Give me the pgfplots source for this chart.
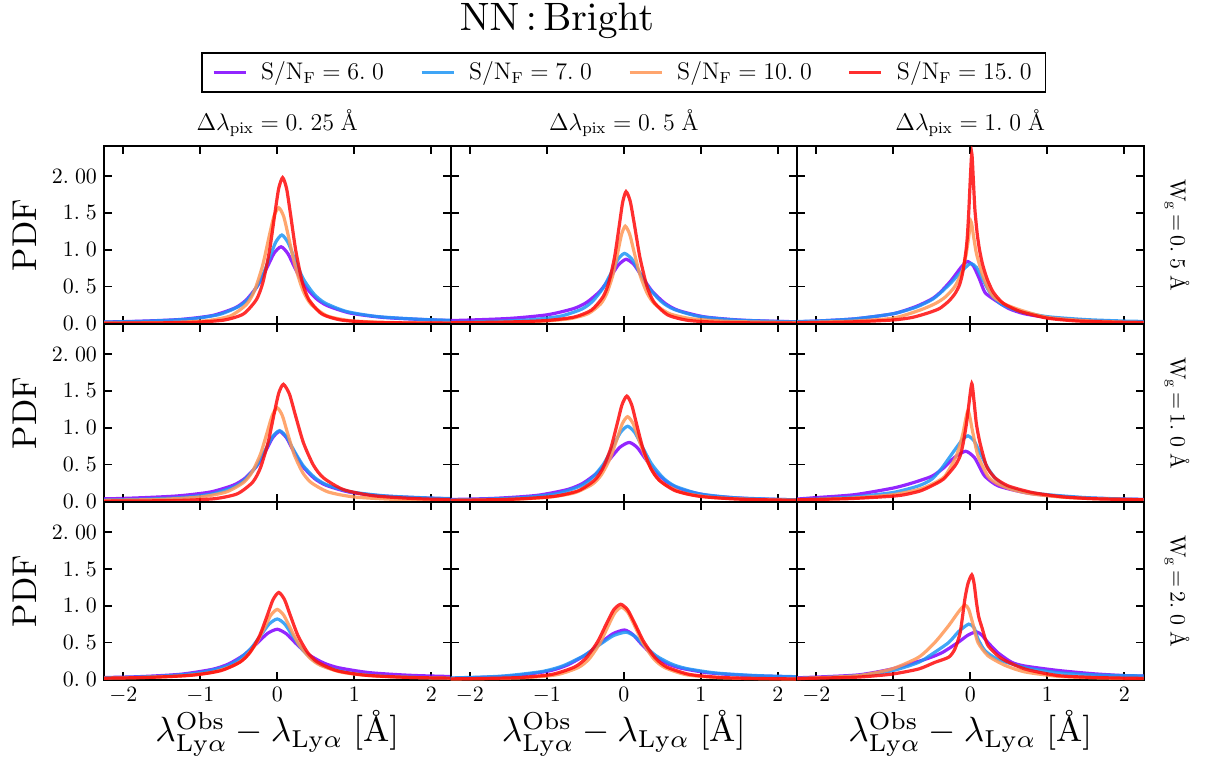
\documentclass[border=0pt]{standalone}
\usepackage{graphicx}
\usepackage{pgfplots}
\pgfplotsset{compat=1.18}
\definecolor{cP}{RGB}{128,0,255}
\definecolor{cB}{RGB}{30,150,245}
\definecolor{cO}{RGB}{255,150,85}
\definecolor{cR}{RGB}{255,10,10}
\newcommand{\xlab}{\scalebox{1.75}{$\lambda^{\mathrm{Obs}}_{\mathrm{Ly}\alpha}-\lambda_{\mathrm{Ly}\alpha}\;[\mbox{\AA}]$}}
\pgfplotsset{
 panel/.style={
  scale only axis, width=173.25pt, height=89pt, anchor=north west,
  xmin=-2.25, xmax=2.25, ymin=-0.01, ymax=2.41,
  xtick={-2,-1,0,1,2}, ytick={0,0.5,1,1.5,2},
  tick align=inside, major tick length=4pt,
  tick style={black, line width=0.8pt},
  axis line style={line width=1pt},
  xticklabels={}, yticklabels={},
  tick label style={font=\fontsize{10.5}{12}\selectfont},
  every axis plot/.append style={line width=1.6pt, opacity=0.85, smooth, tension=0.4, no markers},
 },
 leftcol/.style={yticklabels={$0.\;0$,$0.\;5$,$1.\;0$,$1.\;5$,$2.\;00$}, ylabel={\scalebox{1.72}{PDF}},
   ylabel style={at={(axis description cs:-0.23,0.5)}, anchor=center}},
 bottomrow/.style={xticklabels={$-2$,$-1$,$0$,$1$,$2$},
   xlabel={\xlab},
   xlabel style={at={(axis description cs:0.5,-0.30)}, anchor=center}},
}
\begin{document}
\begin{tikzpicture}
\useasboundingbox (0,0) rectangle (604pt,-380pt);
% ---------------- row 1 ----------------
\begin{axis}[panel, leftcol, at={(52pt,-73pt)},
  legend entries={$\mathrm{S/N_F}=6.\;0$,$\mathrm{S/N_F}=7.\;0$,$\mathrm{S/N_F}=10.\;0$,$\mathrm{S/N_F}=15.\;0$},
  legend style={at={(1.5,1.528)}, anchor=north, legend columns=4, draw=black, line width=0.8pt,
    font=\fontsize{12}{14}\selectfont, inner xsep=5pt, inner ysep=2.5pt,
    /tikz/every odd column/.append style={column sep=5pt},
    /tikz/every even column/.append style={column sep=16pt}},
  legend image code/.code={\draw[#1] (0pt,0pt) -- (16pt,0pt);}]
\addplot[cP] coordinates {(-5.35,0.0032)(-3.25,0.0085)(-2.05,0.0208)(-1.30,0.0489)(-0.85,0.104)(-0.55,0.208)(-0.40,0.320)(-0.25,0.52)(-0.13,0.764)(-0.04,0.954)(0.05,1.04)(0.14,0.944)(0.23,0.750)(0.35,0.52)(0.50,0.341)(0.65,0.239)(0.95,0.138)(1.40,0.0777)(2.15,0.0406)(3.35,0.0208)(5.45,0.010)};
\addplot[cB] coordinates {(-4.8,0.0037)(-2.91,0.0098)(-1.83,0.024)(-1.155,0.056)(-0.75,0.12)(-0.48,0.24)(-0.345,0.370)(-0.21,0.6)(-0.102,0.882)(-0.021,1.100)(0.06,1.2)(0.144,1.090)(0.228,0.865)(0.34,0.6)(0.48,0.394)(0.62,0.276)(0.90,0.160)(1.32,0.0896)(2.02,0.047)(3.14,0.024)(5.1,0.0115)};
\addplot[cO] coordinates {(-3.76,0.0006)(-2.29,0.0025)(-1.45,0.0097)(-0.925,0.0339)(-0.61,0.0997)(-0.40,0.256)(-0.295,0.444)(-0.19,0.785)(-0.106,1.178)(-0.043,1.454)(0.02,1.57)(0.083,1.454)(0.146,1.178)(0.23,0.785)(0.335,0.444)(0.44,0.256)(0.65,0.0997)(0.965,0.0339)(1.49,0.0097)(2.33,0.0025)(3.80,0.0006)};
\addplot[cR] coordinates {(-2.99,0.001)(-1.80,0.003)(-1.12,0.012)(-0.695,0.043)(-0.44,0.126)(-0.27,0.323)(-0.185,0.560)(-0.10,0.99)(-0.032,1.485)(0.019,1.833)(0.07,1.98)(0.121,1.833)(0.172,1.485)(0.24,0.99)(0.325,0.560)(0.41,0.323)(0.58,0.126)(0.835,0.043)(1.26,0.012)(1.94,0.003)(3.13,0.001)};
\end{axis}
\begin{axis}[panel, at={(225.25pt,-73pt)}]
\addplot[cP] coordinates {(-6.09,0.0084)(-3.71,0.0174)(-2.35,0.034)(-1.50,0.065)(-0.99,0.116)(-0.65,0.200)(-0.48,0.285)(-0.31,0.435)(-0.174,0.627)(-0.072,0.790)(0.03,0.87)(0.132,0.798)(0.234,0.639)(0.37,0.435)(0.54,0.268)(0.71,0.174)(1.05,0.087)(1.56,0.0409)(2.41,0.0174)(3.77,0.0071)(6.15,0.0027)};
\addplot[cB] coordinates {(-5.03,0.0029)(-3.07,0.0078)(-1.95,0.019)(-1.25,0.0447)(-0.83,0.095)(-0.55,0.19)(-0.41,0.293)(-0.27,0.475)(-0.158,0.698)(-0.074,0.871)(0.01,0.95)(0.106,0.871)(0.202,0.698)(0.33,0.475)(0.49,0.293)(0.65,0.19)(0.97,0.095)(1.45,0.0447)(2.25,0.019)(3.53,0.0078)(5.77,0.0029)};
\addplot[cO] coordinates {(-2.86,0.0041)(-1.74,0.0108)(-1.10,0.0264)(-0.70,0.062)(-0.46,0.132)(-0.30,0.264)(-0.22,0.407)(-0.14,0.66)(-0.076,0.970)(-0.028,1.210)(0.02,1.32)(0.077,1.210)(0.134,0.970)(0.21,0.66)(0.305,0.407)(0.40,0.264)(0.59,0.132)(0.875,0.062)(1.35,0.0264)(2.11,0.0108)(3.44,0.0041)};
\addplot[cR] coordinates {(-2.67,0.0055)(-1.62,0.0147)(-1.02,0.0358)(-0.645,0.0841)(-0.42,0.179)(-0.27,0.358)(-0.195,0.551)(-0.12,0.895)(-0.06,1.316)(-0.015,1.641)(0.03,1.79)(0.084,1.658)(0.138,1.343)(0.21,0.895)(0.30,0.507)(0.39,0.292)(0.57,0.114)(0.84,0.0387)(1.29,0.0111)(2.01,0.0029)(3.27,0.0007)};
\end{axis}
\begin{axis}[panel, at={(398.5pt,-73pt)}]
\addplot[cP] coordinates {(-2.25,0.02)(-2.0,0.03)(-1.5,0.06)(-1.0,0.13)(-0.7,0.23)(-0.5,0.33)(-0.39,0.42)(-0.25,0.58)(-0.12,0.76)(-0.04,0.84)(0.04,0.78)(0.12,0.6)(0.19,0.42)(0.3,0.33)(0.5,0.2)(0.7,0.13)(1.0,0.08)(1.5,0.04)(2.0,0.02)(2.25,0.018)};
\addplot[cB] coordinates {(-2.25,0.025)(-2.0,0.03)(-1.5,0.06)(-1.0,0.13)(-0.7,0.22)(-0.5,0.32)(-0.39,0.41)(-0.25,0.55)(-0.12,0.7)(0.0,0.81)(0.08,0.76)(0.16,0.6)(0.26,0.41)(0.4,0.26)(0.65,0.16)(1.0,0.09)(1.5,0.05)(2.0,0.03)(2.25,0.025)};
\addplot[cO] coordinates {(-2.25,0.01)(-2.0,0.015)(-1.5,0.03)(-1.0,0.07)(-0.65,0.18)(-0.45,0.27)(-0.32,0.36)(-0.2,0.5)(-0.11,0.69)(-0.06,0.9)(-0.03,1.1)(0.01,1.38)(0.04,1.2)(0.08,0.95)(0.15,0.69)(0.22,0.5)(0.30,0.36)(0.45,0.26)(0.65,0.18)(1.0,0.08)(1.5,0.035)(2.0,0.015)(2.25,0.012)};
\addplot[cR] coordinates {(-2.25,0.006)(-2.0,0.008)(-1.5,0.02)(-1.0,0.045)(-0.75,0.08)(-0.55,0.14)(-0.4,0.2)(-0.28,0.3)(-0.2,0.4)(-0.14,0.52)(-0.1,0.68)(-0.06,0.95)(-0.04,1.15)(-0.02,1.5)(0.0,1.95)(0.02,2.31)(0.04,1.95)(0.06,1.55)(0.09,1.22)(0.12,1.0)(0.16,0.8)(0.22,0.6)(0.30,0.42)(0.43,0.27)(0.65,0.16)(1.0,0.07)(1.4,0.03)(2.0,0.012)(2.25,0.01)};
\end{axis}
% ---------------- row 2 ----------------
\begin{axis}[panel, leftcol, at={(52pt,-162pt)}]
\addplot[cP] coordinates {(-5.37,0.0091)(-3.27,0.019)(-2.07,0.037)(-1.32,0.071)(-0.87,0.126)(-0.57,0.219)(-0.42,0.312)(-0.27,0.475)(-0.15,0.685)(-0.06,0.863)(0.03,0.95)(0.12,0.863)(0.21,0.685)(0.33,0.475)(0.48,0.312)(0.63,0.219)(0.93,0.126)(1.38,0.071)(2.13,0.037)(3.33,0.019)(5.43,0.0091)};
\addplot[cB] coordinates {(-5.37,0.003)(-3.27,0.0079)(-2.07,0.0192)(-1.32,0.0451)(-0.87,0.096)(-0.57,0.192)(-0.42,0.296)(-0.27,0.48)(-0.15,0.706)(-0.06,0.880)(0.03,0.96)(0.123,0.872)(0.216,0.692)(0.34,0.48)(0.495,0.315)(0.65,0.221)(0.96,0.128)(1.425,0.0717)(2.20,0.0374)(3.44,0.0192)(5.61,0.0092)};
\addplot[cO] coordinates {(-3.96,0.0039)(-2.42,0.0104)(-1.54,0.0254)(-0.99,0.0597)(-0.66,0.127)(-0.44,0.254)(-0.33,0.391)(-0.22,0.635)(-0.132,0.933)(-0.066,1.165)(0,1.27)(0.066,1.165)(0.132,0.933)(0.22,0.635)(0.33,0.391)(0.44,0.254)(0.66,0.127)(0.99,0.0597)(1.54,0.0254)(2.42,0.0104)(3.96,0.0039)};
\addplot[cR] coordinates {(-3.52,0.0006)(-2.12,0.0025)(-1.32,0.0099)(-0.82,0.0343)(-0.52,0.101)(-0.32,0.259)(-0.22,0.450)(-0.12,0.795)(-0.04,1.193)(0.02,1.472)(0.08,1.59)(0.158,1.458)(0.236,1.169)(0.34,0.795)(0.47,0.490)(0.60,0.318)(0.86,0.159)(1.25,0.0747)(1.90,0.0318)(2.94,0.013)(4.76,0.0049)};
\end{axis}
\begin{axis}[panel, at={(225.25pt,-162pt)}]
\addplot[cP] coordinates {(-7.13,0.0025)(-4.33,0.0066)(-2.73,0.016)(-1.73,0.0376)(-1.13,0.08)(-0.73,0.16)(-0.53,0.246)(-0.33,0.40)(-0.17,0.588)(-0.05,0.734)(0.07,0.80)(0.172,0.734)(0.274,0.588)(0.41,0.40)(0.58,0.246)(0.75,0.16)(1.09,0.08)(1.60,0.0376)(2.45,0.016)(3.81,0.0066)(6.19,0.0025)};
\addplot[cB] coordinates {(-5.53,0.0032)(-3.36,0.0084)(-2.12,0.0204)(-1.345,0.0479)(-0.88,0.102)(-0.57,0.204)(-0.415,0.314)(-0.26,0.51)(-0.136,0.750)(-0.043,0.935)(0.05,1.02)(0.143,0.935)(0.236,0.750)(0.36,0.51)(0.515,0.314)(0.67,0.204)(0.98,0.102)(1.445,0.0479)(2.22,0.0204)(3.46,0.0084)(5.63,0.0032)};
\addplot[cO] coordinates {(-4.09,0.0036)(-2.48,0.0094)(-1.56,0.023)(-0.985,0.054)(-0.64,0.115)(-0.41,0.23)(-0.295,0.354)(-0.18,0.575)(-0.088,0.845)(-0.019,1.055)(0.05,1.15)(0.122,1.055)(0.194,0.845)(0.29,0.575)(0.41,0.354)(0.53,0.23)(0.77,0.115)(1.13,0.054)(1.73,0.023)(2.69,0.0094)(4.37,0.0036)};
\addplot[cR] coordinates {(-3.74,0.0044)(-2.27,0.0117)(-1.43,0.0286)(-0.905,0.0672)(-0.59,0.143)(-0.38,0.286)(-0.275,0.440)(-0.17,0.715)(-0.086,1.051)(-0.023,1.311)(0.04,1.43)(0.103,1.311)(0.166,1.051)(0.25,0.715)(0.355,0.440)(0.46,0.286)(0.67,0.143)(0.985,0.0672)(1.51,0.0286)(2.35,0.0117)(3.82,0.0044)};
\end{axis}
\begin{axis}[panel, at={(398.5pt,-162pt)}]
\addplot[cP] coordinates {(-2.25,0.03)(-2.0,0.05)(-1.5,0.09)(-1.0,0.18)(-0.75,0.25)(-0.5,0.34)(-0.35,0.45)(-0.2,0.6)(-0.06,0.68)(0.05,0.6)(0.12,0.47)(0.19,0.34)(0.36,0.21)(0.7,0.12)(1.0,0.08)(1.5,0.045)(2.0,0.03)(2.25,0.025)};
\addplot[cB] coordinates {(-2.25,0.025)(-2.0,0.03)(-1.5,0.06)(-1.0,0.12)(-0.67,0.21)(-0.5,0.3)(-0.37,0.45)(-0.2,0.7)(-0.1,0.84)(-0.03,0.89)(0.05,0.82)(0.13,0.65)(0.23,0.45)(0.32,0.32)(0.45,0.21)(0.7,0.13)(1.0,0.09)(1.5,0.05)(2.0,0.03)(2.25,0.025)};
\addplot[cO] coordinates {(-2.25,0.02)(-2.0,0.025)(-1.5,0.045)(-1.0,0.09)(-0.67,0.16)(-0.5,0.23)(-0.33,0.34)(-0.18,0.62)(-0.1,0.9)(-0.03,1.23)(0.03,0.95)(0.1,0.62)(0.23,0.34)(0.35,0.24)(0.54,0.16)(0.8,0.1)(1.2,0.055)(1.6,0.035)(2.0,0.025)(2.25,0.02)};
\addplot[cR] coordinates {(-2.25,0.02)(-2.0,0.025)(-1.6,0.035)(-1.3,0.05)(-1.0,0.07)(-0.85,0.09)(-0.65,0.14)(-0.5,0.21)(-0.35,0.3)(-0.2,0.48)(-0.13,0.62)(-0.09,0.8)(-0.05,1.05)(-0.02,1.3)(0.02,1.6)(0.05,1.35)(0.08,1.05)(0.125,0.8)(0.21,0.48)(0.32,0.32)(0.49,0.21)(0.8,0.12)(1.2,0.06)(1.6,0.035)(2.0,0.025)(2.25,0.02)};
\end{axis}
% ---------------- row 3 ----------------
\begin{axis}[panel, leftcol, bottomrow, at={(52pt,-251pt)}]
\addplot[cP] coordinates {(-7.56,0.0021)(-4.62,0.0056)(-2.94,0.0136)(-1.89,0.032)(-1.26,0.068)(-0.84,0.136)(-0.63,0.209)(-0.42,0.34)(-0.252,0.50)(-0.126,0.624)(0,0.68)(0.12,0.617)(0.24,0.490)(0.4,0.34)(0.6,0.223)(0.8,0.156)(1.2,0.090)(1.8,0.0508)(2.8,0.0265)(4.4,0.0136)(7.2,0.0065)};
\addplot[cB] coordinates {(-6.3,0.0025)(-3.85,0.0067)(-2.45,0.0164)(-1.575,0.0385)(-1.05,0.082)(-0.7,0.164)(-0.525,0.253)(-0.35,0.41)(-0.21,0.603)(-0.105,0.752)(0,0.82)(0.096,0.752)(0.192,0.603)(0.32,0.41)(0.48,0.253)(0.64,0.164)(0.96,0.082)(1.44,0.0385)(2.24,0.0164)(3.52,0.0067)(5.76,0.0025)};
\addplot[cO] coordinates {(-5.04,0.0029)(-3.08,0.0078)(-1.96,0.019)(-1.26,0.0447)(-0.84,0.095)(-0.56,0.19)(-0.42,0.293)(-0.28,0.475)(-0.168,0.698)(-0.084,0.871)(0,0.95)(0.084,0.871)(0.168,0.698)(0.28,0.475)(0.42,0.293)(0.56,0.19)(0.84,0.095)(1.26,0.0447)(1.96,0.019)(3.08,0.0078)(5.04,0.0029)};
\addplot[cR] coordinates {(-4.48,0.0037)(-2.73,0.0097)(-1.73,0.0236)(-1.105,0.0555)(-0.73,0.118)(-0.48,0.236)(-0.355,0.363)(-0.23,0.59)(-0.13,0.867)(-0.055,1.082)(0.02,1.18)(0.095,1.082)(0.17,0.867)(0.27,0.59)(0.395,0.363)(0.52,0.236)(0.77,0.118)(1.145,0.0555)(1.77,0.0236)(2.77,0.0097)(4.52,0.0037)};
\end{axis}
\begin{axis}[panel, bottomrow, at={(225.25pt,-251pt)}]
\addplot[cP] coordinates {(-8.99,0.0003)(-5.49,0.0011)(-3.49,0.0042)(-2.24,0.0145)(-1.49,0.0425)(-0.99,0.109)(-0.74,0.190)(-0.49,0.335)(-0.29,0.503)(-0.14,0.620)(0.01,0.67)(0.118,0.608)(0.226,0.483)(0.37,0.335)(0.55,0.220)(0.73,0.154)(1.09,0.0891)(1.63,0.05)(2.53,0.0261)(3.97,0.0134)(6.49,0.0064)};
\addplot[cB] coordinates {(-9.87,0.0003)(-6.02,0.001)(-3.82,0.004)(-2.445,0.0138)(-1.62,0.0406)(-1.07,0.104)(-0.795,0.181)(-0.52,0.32)(-0.30,0.48)(-0.135,0.593)(0.03,0.64)(0.147,0.581)(0.264,0.461)(0.42,0.32)(0.615,0.21)(0.81,0.147)(1.20,0.0851)(1.785,0.0478)(2.76,0.025)(4.32,0.0128)(7.05,0.0061)};
\addplot[cO] coordinates {(-5.07,0.0004)(-3.11,0.0016)(-1.99,0.0061)(-1.29,0.0212)(-0.87,0.0622)(-0.59,0.160)(-0.45,0.277)(-0.31,0.49)(-0.198,0.735)(-0.114,0.907)(-0.03,0.98)(0.054,0.907)(0.138,0.735)(0.25,0.49)(0.39,0.277)(0.53,0.160)(0.81,0.0622)(1.23,0.0212)(1.93,0.0061)(3.05,0.0016)(5.01,0.0004)};
\addplot[cR] coordinates {(-5.44,0.0004)(-3.34,0.0016)(-2.14,0.0063)(-1.39,0.022)(-0.94,0.0648)(-0.64,0.166)(-0.49,0.289)(-0.34,0.51)(-0.22,0.765)(-0.13,0.945)(-0.04,1.02)(0.05,0.945)(0.14,0.765)(0.26,0.51)(0.41,0.289)(0.56,0.166)(0.86,0.0648)(1.31,0.022)(2.06,0.0063)(3.26,0.0016)(5.36,0.0004)};
\end{axis}
\begin{axis}[panel, bottomrow, at={(398.5pt,-251pt)}]
\addplot[cP] coordinates {(-2.25,0.02)(-2.0,0.03)(-1.45,0.06)(-1.02,0.14)(-0.59,0.27)(-0.37,0.36)(-0.16,0.5)(-0.03,0.6)(0.08,0.645)(0.15,0.6)(0.23,0.5)(0.36,0.36)(0.54,0.23)(0.71,0.18)(1.14,0.12)(1.6,0.075)(2.0,0.05)(2.25,0.045)};
\addplot[cB] coordinates {(-2.25,0.015)(-2.0,0.02)(-1.45,0.05)(-1.0,0.12)(-0.67,0.23)(-0.5,0.34)(-0.28,0.5)(-0.15,0.65)(-0.02,0.75)(0.05,0.7)(0.1,0.55)(0.19,0.39)(0.36,0.27)(0.71,0.16)(1.14,0.09)(1.6,0.06)(2.0,0.05)(2.25,0.045)};
\addplot[cO] coordinates {(-2.25,0.01)(-2.0,0.02)(-1.45,0.05)(-1.02,0.14)(-0.67,0.30)(-0.46,0.5)(-0.28,0.73)(-0.15,0.92)(-0.07,1.01)(-0.02,0.95)(0.04,0.73)(0.1,0.5)(0.23,0.32)(0.45,0.19)(0.71,0.10)(1.14,0.04)(1.6,0.02)(2.0,0.012)(2.25,0.01)};
\addplot[cR] coordinates {(-2.25,0.01)(-2.0,0.015)(-1.45,0.03)(-1.02,0.07)(-0.67,0.14)(-0.46,0.23)(-0.28,0.30)(-0.2,0.41)(-0.13,0.64)(-0.07,1.09)(-0.03,1.3)(0.02,1.42)(0.05,1.3)(0.08,1.05)(0.11,0.85)(0.15,0.71)(0.23,0.46)(0.41,0.28)(0.71,0.14)(1.14,0.05)(1.6,0.025)(2.0,0.015)(2.25,0.012)};
\end{axis}
% ---------------- texts ----------------
\node[anchor=base] at (278.5pt,-15pt) {\scalebox{1.98}{$\mathrm{NN}\,{:}\,\mathrm{Bright}$}};
\node[anchor=base, font=\fontsize{11.7}{14}\selectfont] at (138.6pt,-65pt) {$\Delta\lambda_{\mathrm{pix}}=0.\;25\;\mbox{\AA}$};
\node[anchor=base, font=\fontsize{11.7}{14}\selectfont] at (311.9pt,-65pt) {$\Delta\lambda_{\mathrm{pix}}=0.\;5\;\mbox{\AA}$};
\node[anchor=base, font=\fontsize{11.7}{14}\selectfont] at (485.1pt,-65pt) {$\Delta\lambda_{\mathrm{pix}}=1.\;0\;\mbox{\AA}$};
\node[rotate=-90, font=\fontsize{10.5}{12}\selectfont] at (588.5pt,-117.5pt) {$\mathrm{W_g}\,{=}\,0.\;5\;\mbox{\AA}$};
\node[rotate=-90, font=\fontsize{10.5}{12}\selectfont] at (588.5pt,-206.5pt) {$\mathrm{W_g}\,{=}\,1.\;0\;\mbox{\AA}$};
\node[rotate=-90, font=\fontsize{10.5}{12}\selectfont] at (588.5pt,-295.5pt) {$\mathrm{W_g}\,{=}\,2.\;0\;\mbox{\AA}$};
\end{tikzpicture}
\end{document}
